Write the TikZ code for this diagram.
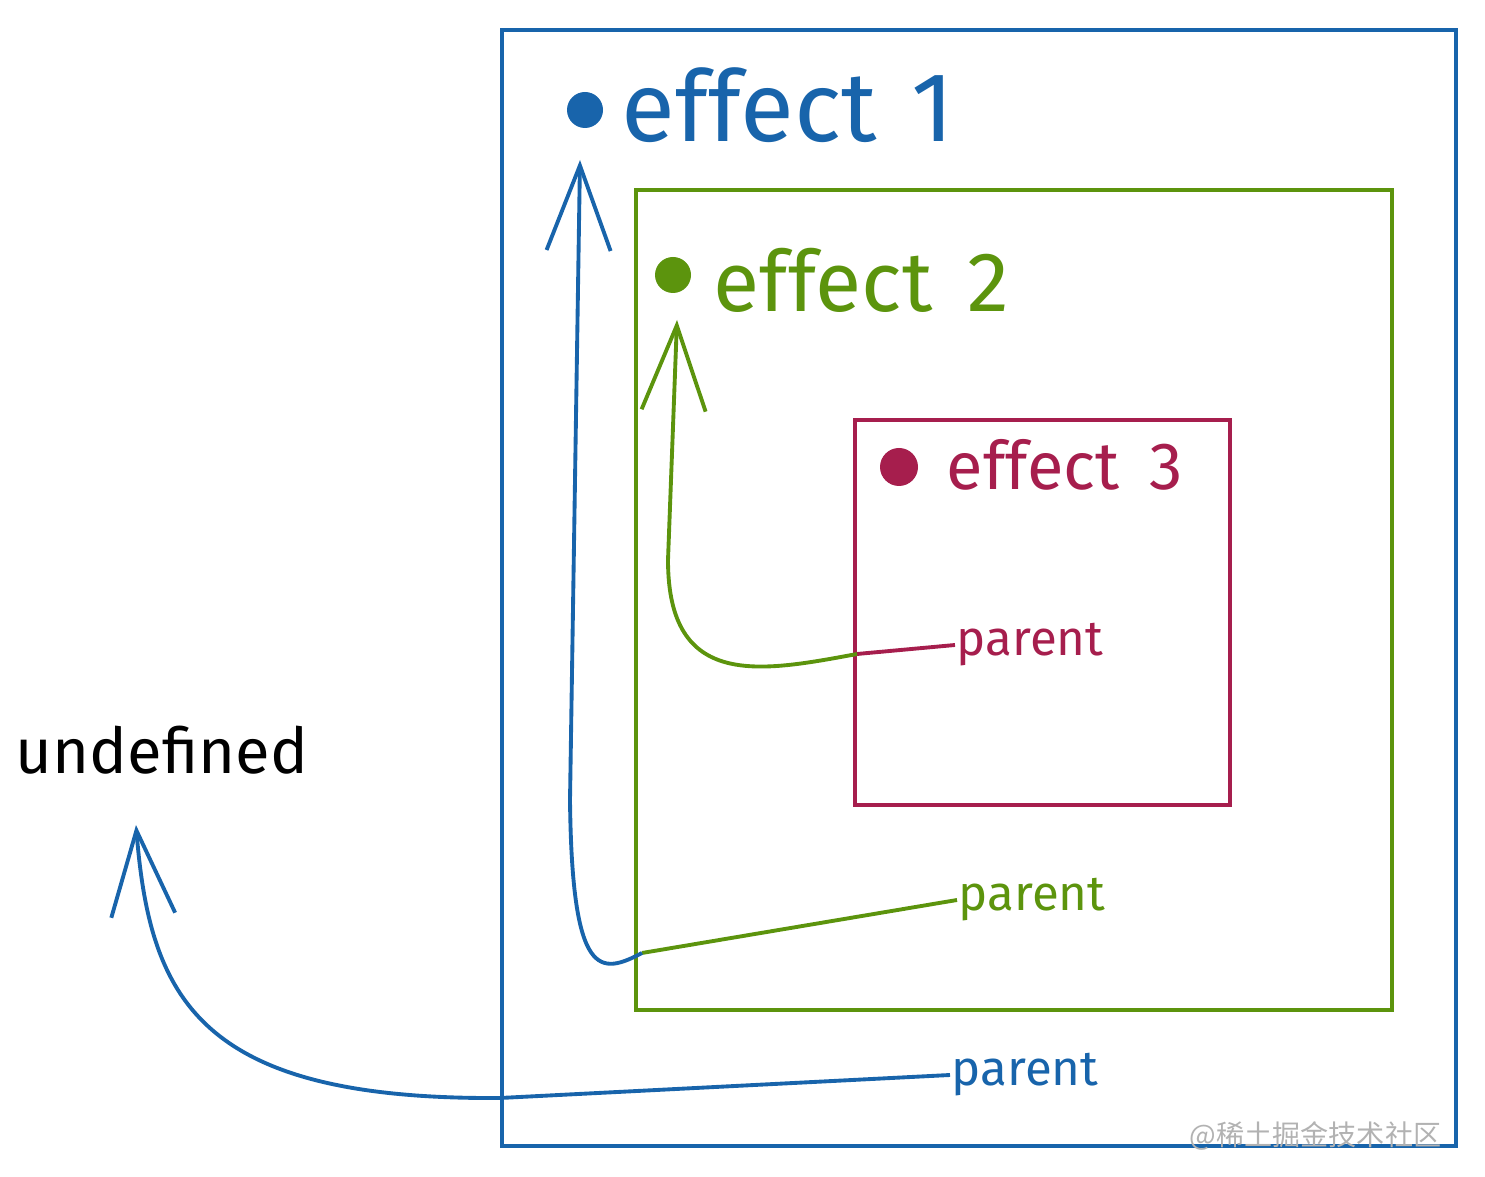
\documentclass[tikz,border=0pt]{standalone}
\usepackage{fontspec}
\setmainfont{Fira Sans}
\newfontfamily\cjkfont{Noto Sans CJK SC}
\usetikzlibrary{arrows.meta}
\definecolor{effblue}{HTML}{1864AB}
\definecolor{effgreen}{HTML}{5C940D}
\definecolor{effred}{HTML}{A61E4D}
\begin{document}
\begin{tikzpicture}[x=0.01cm,y=-0.01cm, line width=1.1pt,
  >={Straight Barb[length=8.5mm,width=6.4mm,line width=1.1pt]}]
 \tikzstyle{title}=[anchor=west, inner sep=0pt]
 \tikzstyle{ptr}=[font=\fontsize{14}{16}\selectfont, anchor=west, inner sep=0pt]
 \useasboundingbox (0,0) rectangle (1485,1177);
 % boxes
 \draw[effblue] (502,30) rectangle (1456,1146);
 \draw[effgreen] (636,190) rectangle (1392,1010);
 \draw[effred] (855,420) rectangle (1230,805);
 % titles
 \fill[effblue] (585,110) circle (18);
 \node (E1) [title, text=effblue, font=\fontsize{28}{30}\selectfont] at (620,105) {effect\hspace{0.35cm}1};
 \fill[effgreen] (673,275) circle (18);
 \node (E2) [title, text=effgreen, font=\fontsize{24}{26}\selectfont] at (712,280) {effect\hspace{0.35cm}2};
 \fill[effred] (899,467) circle (19);
 \node (E3) [title, text=effred, font=\fontsize{19}{21}\selectfont] at (945,465) {effect\hspace{0.3cm}3};
 \node (U) [font=\fontsize{18}{20}\selectfont, inner sep=0pt] at (162,750) {undefined};
 % parent labels
 \node (P3) [ptr, text=effred] at (955,645) {parent};
 \node (P2) [ptr, text=effgreen] at (957,900) {parent};
 \node (P1) [ptr, text=effblue] at (950,1075) {parent};
 \coordinate (T1) at (580,160);
 \coordinate (T2) at (677,320);
 \coordinate (T0) at (136,825);
 % pointers
 \draw[effblue, ->] (P1.west) -- (500,1098) .. controls (200,1100) and (150,1000) .. (T0);
 \draw[effgreen] (P2.west) -- (642,953);
 \draw[effblue, ->] (642,953) .. controls (600,975) and (572,980) .. (570,800) -- (T1);
 \draw[effred] (P3.west) -- (857,654);
 \draw[effgreen, ->] (857,654) .. controls (760,672) and (668,690) .. (668,560) -- (T2);
 % watermark
 \node (W) [anchor=east, text=gray!60, font=\cjkfont\fontsize{8}{10}\selectfont] at (1455,1136) {@稀土掘金技术社区};
\end{tikzpicture}
\end{document}
